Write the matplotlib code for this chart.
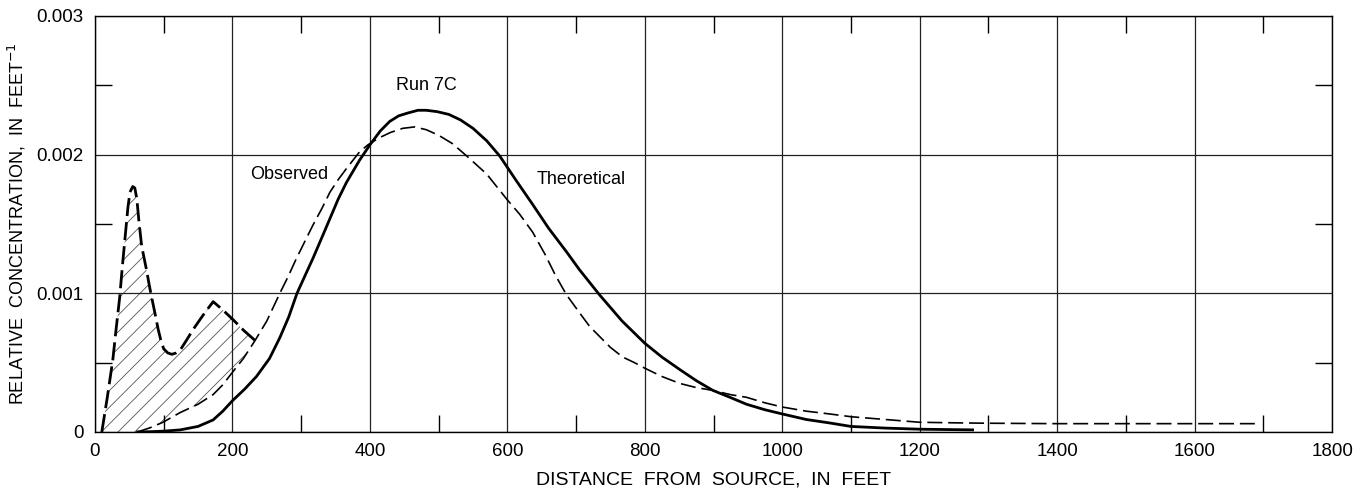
import numpy as np
import matplotlib.pyplot as plt
from matplotlib.ticker import MultipleLocator

plt.rcParams['font.family'] = ['Liberation Sans', 'DejaVu Sans']
plt.rcParams['hatch.linewidth'] = 0.6

# Observed, early peak (heavy dashed, hatched)
early_x = [10, 18, 26, 31, 36, 40, 44, 48, 51, 55, 58, 61, 64, 68, 75, 79, 83, 88, 92, 96,
           100, 106, 112, 118, 124, 133, 143, 157, 172, 186, 201, 217, 233]
early_y = [0, 0.00025, 0.00052, 0.00075, 0.00097, 0.0012, 0.00141, 0.00162, 0.00173, 0.00177,
           0.00176, 0.00168, 0.00152, 0.00134, 0.00117, 0.00106, 0.00096, 0.00084, 0.00074,
           0.00066, 0.0006, 0.00057, 0.00056, 0.00057, 0.00059, 0.00066, 0.00074, 0.00084,
           0.00094, 0.00088, 0.00081, 0.00073, 0.00066]

# Observed, main curve (dashed)
obs_x = [62, 80, 99, 124, 150, 172, 186, 200, 216, 233, 250, 269, 281, 293, 305, 317, 330,
         342, 354, 366, 385, 397, 413, 430, 448, 465, 482, 500, 520, 541, 570, 599, 618,
         637, 655, 670, 686, 705, 720, 734, 750, 768, 785, 800, 825, 851, 875, 899, 924,
         948, 975, 1000, 1035, 1069, 1100, 1150, 1200, 1250, 1300, 1400, 1500, 1600, 1690]
obs_y = [0, 0.00003, 0.00007, 0.00014, 0.0002, 0.00027, 0.00034, 0.00043, 0.00053, 0.00066,
         0.0008, 0.001, 0.00112, 0.00125, 0.00137, 0.00149, 0.00161, 0.00173, 0.00182,
         0.0019, 0.00202, 0.00207, 0.00212, 0.00216, 0.00219, 0.0022, 0.00218, 0.00214,
         0.00208, 0.00199, 0.00186, 0.00168, 0.00157, 0.00144, 0.00128, 0.00113, 0.00099,
         0.00086, 0.00076, 0.00069, 0.00061, 0.00054, 0.0005, 0.00046, 0.0004, 0.00035,
         0.00032, 0.0003, 0.00027, 0.00025, 0.00021, 0.00018, 0.00015, 0.00013, 0.00011,
         0.00009, 0.00007, 0.000066, 0.000063, 0.00006, 0.00006, 0.00006, 0.00006]

# Theoretical (solid)
theo_x = [60, 80, 100, 124, 150, 172, 186, 200, 218, 235, 254, 269, 282, 294, 305, 317, 330,
          342, 354, 366, 385, 400, 415, 429, 442, 455, 470, 482, 498, 515, 532, 550, 570,
          589, 612, 637, 660, 686, 705, 734, 767, 800, 825, 851, 875, 899, 924, 948, 975,
          1000, 1035, 1069, 1100, 1150, 1200, 1279]
theo_y = [0, 0.000002, 0.000006, 0.000015, 0.00004, 0.000087, 0.00015, 0.000225, 0.00031,
          0.0004, 0.00053, 0.00068, 0.00083, 0.001, 0.00112, 0.00125, 0.0014, 0.00154,
          0.00168, 0.0018, 0.00196, 0.00207, 0.00217, 0.00224, 0.00228, 0.0023, 0.00232,
          0.00232, 0.00231, 0.00229, 0.00225, 0.00219, 0.0021, 0.00199, 0.00182, 0.00164,
          0.00147, 0.0013, 0.00117, 0.00099, 0.0008, 0.00064, 0.00054, 0.00045, 0.00037,
          0.0003, 0.00025, 0.0002, 0.00016, 0.00013, 0.00009, 0.000065, 0.00004, 0.000028,
          0.00002, 0.000015]

x_ticks = [0, 200, 400, 600, 800, 1000, 1200, 1400, 1600, 1800]
y_ticks = [0, 0.001, 0.002, 0.003]
y_tick_labels = ['0', '0.001', '0.002', '0.003']

fig = plt.figure(figsize=(13.64, 4.92), dpi=100)
ax = fig.add_axes([0.0696, 0.122, 0.907, 0.8455])

# hatched area between the early peak and the main observed curve
n_low = 10  # main curve points up to x=233
poly_x = early_x + obs_x[:n_low][::-1]
poly_y = early_y + obs_y[:n_low][::-1]
ax.fill(poly_x, poly_y, facecolor='none', edgecolor='#555555', hatch='//', linewidth=0)

ax.plot(early_x, early_y, color='black', lw=2.0, dashes=(6.5, 2.2), solid_capstyle='butt')
ax.plot(obs_x, obs_y, color='black', lw=1.2, dashes=(9, 3.5))
ax.plot(theo_x, theo_y, color='black', lw=2.0, solid_capstyle='butt')

ax.text(482, 0.0025, 'Run 7C', fontsize=13, ha='center', va='center')
ax.text(282, 0.00186, 'Observed', fontsize=13, ha='center', va='center')
ax.text(707, 0.00182, 'Theoretical', fontsize=13, ha='center', va='center')

ax.set_xlim(0, 1800)
ax.set_ylim(0, 0.003)
ax.set_xticks(x_ticks)
ax.set_yticks(y_ticks)
ax.set_yticklabels(y_tick_labels)
ax.xaxis.set_minor_locator(MultipleLocator(100))
ax.yaxis.set_minor_locator(MultipleLocator(0.0005))
ax.tick_params(which='major', length=0, labelsize=13.5, pad=8)
ax.tick_params(which='minor', direction='in', length=12, width=1.0,
               top=True, right=True, bottom=True, left=True)
ax.grid(True, which='major', color='#222222', lw=0.9)
for s in ax.spines.values():
    s.set_linewidth(1.0)

ax.set_xlabel('DISTANCE  FROM  SOURCE,  IN  FEET', fontsize=14, labelpad=8)
ax.set_ylabel('RELATIVE  CONCENTRATION,  IN  FEET$^{-1}$', fontsize=13, labelpad=6)

plt.savefig('out.png', dpi=100)
